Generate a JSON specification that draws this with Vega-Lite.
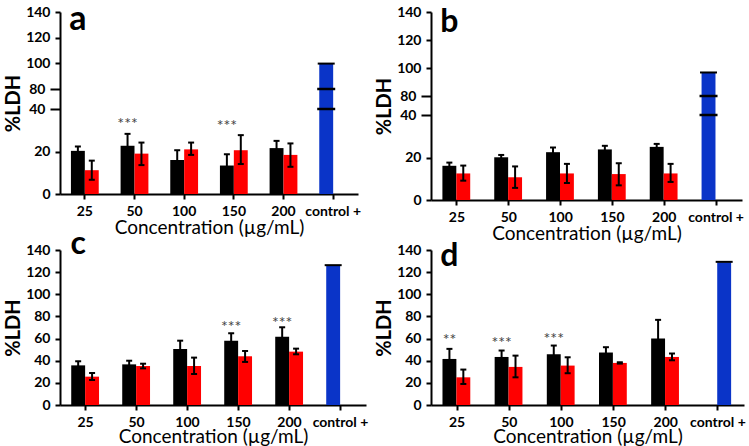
{
  "$schema": "https://vega.github.io/schema/vega-lite/v6.json",
  "padding": {"left": 3, "top": 2, "right": 2, "bottom": 0},
  "background": "white",
  "datasets": {
    "bars": [
      {"p": "a", "c": "25", "s": "1", "g": "A", "v": 20.3, "lo": 18.2, "hi": 22.4},
      {"p": "a", "c": "25", "s": "2", "g": "B", "v": 11.2, "lo": 6.7, "hi": 15.7},
      {"p": "a", "c": "50", "s": "1", "g": "A", "v": 22.7, "lo": 17.1, "hi": 28.3},
      {"p": "a", "c": "50", "s": "2", "g": "B", "v": 19.0, "lo": 13.6, "hi": 24.2},
      {"p": "a", "c": "100", "s": "1", "g": "A", "v": 16.0, "lo": 11.4, "hi": 20.6},
      {"p": "a", "c": "100", "s": "2", "g": "B", "v": 21.0, "lo": 18.4, "hi": 24.2},
      {"p": "a", "c": "150", "s": "1", "g": "A", "v": 13.4, "lo": 8.1, "hi": 18.7},
      {"p": "a", "c": "150", "s": "2", "g": "B", "v": 20.6, "lo": 14.1, "hi": 27.7},
      {"p": "a", "c": "200", "s": "1", "g": "A", "v": 21.6, "lo": 18.2, "hi": 25.0},
      {"p": "a", "c": "200", "s": "2", "g": "B", "v": 18.4, "lo": 12.8, "hi": 23.8},
      {"p": "a", "c": "control +", "s": "1", "g": "C", "v": 99.5, "lo": 99.2, "hi": 99.8},
      {"p": "b", "c": "25", "s": "1", "g": "A", "v": 16.1, "lo": 14.6, "hi": 17.6},
      {"p": "b", "c": "25", "s": "2", "g": "B", "v": 12.5, "lo": 9.1, "hi": 16.2},
      {"p": "b", "c": "50", "s": "1", "g": "A", "v": 20.1, "lo": 19.0, "hi": 21.2},
      {"p": "b", "c": "50", "s": "2", "g": "B", "v": 10.7, "lo": 5.7, "hi": 15.8},
      {"p": "b", "c": "100", "s": "1", "g": "A", "v": 22.5, "lo": 20.3, "hi": 24.7},
      {"p": "b", "c": "100", "s": "2", "g": "B", "v": 12.5, "lo": 8.0, "hi": 17.0},
      {"p": "b", "c": "150", "s": "1", "g": "A", "v": 23.8, "lo": 22.1, "hi": 25.5},
      {"p": "b", "c": "150", "s": "2", "g": "B", "v": 12.2, "lo": 6.9, "hi": 17.3},
      {"p": "b", "c": "200", "s": "1", "g": "A", "v": 25.0, "lo": 23.6, "hi": 26.4},
      {"p": "b", "c": "200", "s": "2", "g": "B", "v": 12.5, "lo": 8.5, "hi": 17.0},
      {"p": "b", "c": "control +", "s": "1", "g": "C", "v": 96.5, "lo": 96.2, "hi": 96.8},
      {"p": "c", "c": "25", "s": "1", "g": "A", "v": 35.8, "lo": 32.1, "hi": 39.5},
      {"p": "c", "c": "25", "s": "2", "g": "B", "v": 25.6, "lo": 22.6, "hi": 28.9},
      {"p": "c", "c": "50", "s": "1", "g": "A", "v": 36.7, "lo": 33.4, "hi": 40.0},
      {"p": "c", "c": "50", "s": "2", "g": "B", "v": 35.2, "lo": 33.1, "hi": 37.3},
      {"p": "c", "c": "100", "s": "1", "g": "A", "v": 50.6, "lo": 43.1, "hi": 58.1},
      {"p": "c", "c": "100", "s": "2", "g": "B", "v": 35.2, "lo": 28.0, "hi": 42.8},
      {"p": "c", "c": "150", "s": "1", "g": "A", "v": 58.1, "lo": 51.4, "hi": 64.8},
      {"p": "c", "c": "150", "s": "2", "g": "B", "v": 44.0, "lo": 38.9, "hi": 48.8},
      {"p": "c", "c": "200", "s": "1", "g": "A", "v": 61.7, "lo": 53.2, "hi": 70.2},
      {"p": "c", "c": "200", "s": "2", "g": "B", "v": 48.2, "lo": 45.8, "hi": 50.9},
      {"p": "c", "c": "control +", "s": "1", "g": "C", "v": 126.0, "lo": 125.7, "hi": 126.3},
      {"p": "d", "c": "25", "s": "1", "g": "A", "v": 41.6, "lo": 32.5, "hi": 50.7},
      {"p": "d", "c": "25", "s": "2", "g": "B", "v": 25.0, "lo": 19.0, "hi": 32.0},
      {"p": "d", "c": "50", "s": "1", "g": "A", "v": 43.4, "lo": 37.6, "hi": 49.2},
      {"p": "d", "c": "50", "s": "2", "g": "B", "v": 34.4, "lo": 25.0, "hi": 44.6},
      {"p": "d", "c": "100", "s": "1", "g": "A", "v": 45.9, "lo": 38.1, "hi": 53.7},
      {"p": "d", "c": "100", "s": "2", "g": "B", "v": 35.6, "lo": 28.7, "hi": 43.1},
      {"p": "d", "c": "150", "s": "1", "g": "A", "v": 47.4, "lo": 42.6, "hi": 52.2},
      {"p": "d", "c": "150", "s": "2", "g": "B", "v": 38.0, "lo": 37.4, "hi": 38.6},
      {"p": "d", "c": "200", "s": "1", "g": "A", "v": 60.0, "lo": 43.1, "hi": 76.9},
      {"p": "d", "c": "200", "s": "2", "g": "B", "v": 43.4, "lo": 40.4, "hi": 46.5},
      {"p": "d", "c": "control +", "s": "2", "g": "C", "v": 129.0, "lo": 128.7, "hi": 129.3}
    ],
    "stars": [
      {"p": "a", "c": "50", "s": "1", "t": "***", "y": 33.1},
      {"p": "a", "c": "150", "s": "1", "t": "***", "y": 32.0},
      {"p": "c", "c": "150", "s": "1", "t": "***", "y": 70.5},
      {"p": "c", "c": "200", "s": "1", "t": "***", "y": 74.4},
      {"p": "d", "c": "25", "s": "1", "t": "**", "y": 58.5},
      {"p": "d", "c": "50", "s": "1", "t": "***", "y": 56.4},
      {"p": "d", "c": "100", "s": "1", "t": "***", "y": 60.0}
    ],
    "breaks": [
      {"p": "a", "c": "control +", "s": "1", "y": 80},
      {"p": "a", "c": "control +", "s": "1", "y": 40},
      {"p": "b", "c": "control +", "s": "1", "y": 80},
      {"p": "b", "c": "control +", "s": "1", "y": 40}
    ],
    "letters": [
      {"p": "a", "c": "25", "s": "1", "t": "a"},
      {"p": "b", "c": "25", "s": "1", "t": "b"},
      {"p": "c", "c": "25", "s": "1", "t": "c"},
      {"p": "d", "c": "25", "s": "1", "t": "d"}
    ]
  },
  "columns": 2,
  "spacing": {"row": -15, "column": 6},
  "concat": [
    {
      "width": 298, "height": 182,
      "encoding": {
        "x": {"field": "c", "type": "nominal", "sort": ["25", "50", "100", "150", "200", "control +"], "scale": {"domain": ["25", "50", "100", "150", "200", "control +"], "paddingInner": 0.44, "paddingOuter": 0.22}, "axis": {"title": "Concentration (µg/mL)", "titlePadding": 0}},
        "xOffset": {"field": "s", "type": "nominal", "scale": {"domain": ["1", "2"], "paddingInner": 0, "paddingOuter": 0}}
      },
      "layer": [
        {"data": {"name": "bars"}, "transform": [{"filter": "datum.p=='a'"}], "mark": {"type": "bar"},
          "encoding": {
            "y": {"field": "v", "type": "quantitative", "scale": {"domain": [0, 40, 80, 140], "range": [182, 97, 77, 0], "nice": false, "zero": false}, "axis": {"title": "%LDH", "values": [0, 20, 40, 80, 100, 120, 140], "tickCount": 30, "labelOverlap": false, "tickSize": {"condition": {"test": "datum.value==40 || datum.value==80", "value": 10}, "value": 5}}},
            "color": {"field": "g", "type": "nominal", "scale": {"domain": ["A", "B", "C"], "range": ["#000000", "#ff0000", "#0a34c8"]}, "legend": null}
          }},
        {"data": {"name": "bars"}, "transform": [{"filter": "datum.p=='a' && datum.g!='C'"}], "mark": {"type": "rule", "color": "black", "strokeWidth": 2},
          "encoding": {"y": {"field": "lo", "type": "quantitative"}, "y2": {"field": "hi"}}},
        {"data": {"name": "bars"}, "transform": [{"filter": "datum.p=='a' && datum.g!='C'"}], "mark": {"type": "tick", "color": "black", "size": 6, "thickness": 2, "opacity": 1},
          "encoding": {"y": {"field": "hi", "type": "quantitative"}}},
        {"data": {"name": "bars"}, "transform": [{"filter": "datum.p=='a' && datum.g!='C'"}], "mark": {"type": "tick", "color": "black", "size": 6, "thickness": 2, "opacity": 1},
          "encoding": {"y": {"field": "lo", "type": "quantitative"}}},
        {"data": {"name": "bars"}, "transform": [{"filter": "datum.p=='a' && datum.g=='C'"}], "mark": {"type": "tick", "color": "black", "size": 17, "thickness": 2, "opacity": 1},
          "encoding": {"y": {"field": "hi", "type": "quantitative"}}},
        {"data": {"name": "breaks"}, "transform": [{"filter": "datum.p=='a'"}], "mark": {"type": "tick", "color": "black", "size": 18, "thickness": 2.5, "opacity": 1},
          "encoding": {"y": {"field": "y", "type": "quantitative"}}},
        {"data": {"name": "stars"}, "transform": [{"filter": "datum.p=='a'"}], "mark": {"type": "text", "color": "#444444", "fontSize": 16, "font": "Lato", "baseline": "middle"},
          "encoding": {"y": {"field": "y", "type": "quantitative"}, "text": {"field": "t"}}},
        {"data": {"name": "letters"}, "transform": [{"filter": "datum.p=='a'"}], "mark": {"type": "text", "color": "black", "fontSize": 34, "fontWeight": "bold", "font": "Lato", "baseline": "alphabetic", "align": "center"},
          "encoding": {"y": {"datum": 126}, "text": {"field": "t"}}}
      ]
    },
    {
      "width": 311, "height": 188,
      "encoding": {
        "x": {"field": "c", "type": "nominal", "sort": ["25", "50", "100", "150", "200", "control +"], "scale": {"domain": ["25", "50", "100", "150", "200", "control +"], "paddingInner": 0.44, "paddingOuter": 0.22}, "axis": {"title": "Concentration (µg/mL)", "titlePadding": 0}},
        "xOffset": {"field": "s", "type": "nominal", "scale": {"domain": ["1", "2"], "paddingInner": 0, "paddingOuter": 0}}
      },
      "layer": [
        {"data": {"name": "bars"}, "transform": [{"filter": "datum.p=='b'"}], "mark": {"type": "bar"},
          "encoding": {
            "y": {"field": "v", "type": "quantitative", "scale": {"domain": [0, 40, 80, 140], "range": [188, 103, 84, 0], "nice": false, "zero": false}, "axis": {"title": "%LDH", "values": [0, 20, 40, 80, 100, 120, 140], "tickCount": 30, "labelOverlap": false, "tickSize": {"condition": {"test": "datum.value==40 || datum.value==80", "value": 10}, "value": 5}}},
            "color": {"field": "g", "type": "nominal", "scale": {"domain": ["A", "B", "C"], "range": ["#000000", "#ff0000", "#0a34c8"]}, "legend": null}
          }},
        {"data": {"name": "bars"}, "transform": [{"filter": "datum.p=='b' && datum.g!='C'"}], "mark": {"type": "rule", "color": "black", "strokeWidth": 2},
          "encoding": {"y": {"field": "lo", "type": "quantitative"}, "y2": {"field": "hi"}}},
        {"data": {"name": "bars"}, "transform": [{"filter": "datum.p=='b' && datum.g!='C'"}], "mark": {"type": "tick", "color": "black", "size": 6, "thickness": 2, "opacity": 1},
          "encoding": {"y": {"field": "hi", "type": "quantitative"}}},
        {"data": {"name": "bars"}, "transform": [{"filter": "datum.p=='b' && datum.g!='C'"}], "mark": {"type": "tick", "color": "black", "size": 6, "thickness": 2, "opacity": 1},
          "encoding": {"y": {"field": "lo", "type": "quantitative"}}},
        {"data": {"name": "bars"}, "transform": [{"filter": "datum.p=='b' && datum.g=='C'"}], "mark": {"type": "tick", "color": "black", "size": 17, "thickness": 2, "opacity": 1},
          "encoding": {"y": {"field": "hi", "type": "quantitative"}}},
        {"data": {"name": "breaks"}, "transform": [{"filter": "datum.p=='b'"}], "mark": {"type": "tick", "color": "black", "size": 18, "thickness": 2.5, "opacity": 1},
          "encoding": {"y": {"field": "y", "type": "quantitative"}}},
        {"data": {"name": "letters"}, "transform": [{"filter": "datum.p=='b'"}], "mark": {"type": "text", "color": "black", "fontSize": 32, "fontWeight": "bold", "font": "Lato", "baseline": "alphabetic", "align": "center"},
          "encoding": {"y": {"datum": 126}, "text": {"field": "t"}}}
      ]
    },
    {
      "width": 306, "height": 155,
      "encoding": {
        "x": {"field": "c", "type": "nominal", "sort": ["25", "50", "100", "150", "200", "control +"], "scale": {"domain": ["25", "50", "100", "150", "200", "control +"], "paddingInner": 0.44, "paddingOuter": 0.22}, "axis": {"title": "Concentration (µg/mL)", "titlePadding": -2}},
        "xOffset": {"field": "s", "type": "nominal", "scale": {"domain": ["1", "2"], "paddingInner": 0, "paddingOuter": 0}}
      },
      "layer": [
        {"data": {"name": "bars"}, "transform": [{"filter": "datum.p=='c'"}], "mark": {"type": "bar"},
          "encoding": {
            "y": {"field": "v", "type": "quantitative", "scale": {"domain": [0, 140], "nice": false, "zero": true}, "axis": {"title": "%LDH", "values": [0, 20, 40, 60, 80, 100, 120, 140], "tickCount": 30, "labelOverlap": false}},
            "color": {"field": "g", "type": "nominal", "scale": {"domain": ["A", "B", "C"], "range": ["#000000", "#ff0000", "#0a34c8"]}, "legend": null}
          }},
        {"data": {"name": "bars"}, "transform": [{"filter": "datum.p=='c' && datum.g!='C'"}], "mark": {"type": "rule", "color": "black", "strokeWidth": 2},
          "encoding": {"y": {"field": "lo", "type": "quantitative"}, "y2": {"field": "hi"}}},
        {"data": {"name": "bars"}, "transform": [{"filter": "datum.p=='c' && datum.g!='C'"}], "mark": {"type": "tick", "color": "black", "size": 6, "thickness": 2, "opacity": 1},
          "encoding": {"y": {"field": "hi", "type": "quantitative"}}},
        {"data": {"name": "bars"}, "transform": [{"filter": "datum.p=='c' && datum.g!='C'"}], "mark": {"type": "tick", "color": "black", "size": 6, "thickness": 2, "opacity": 1},
          "encoding": {"y": {"field": "lo", "type": "quantitative"}}},
        {"data": {"name": "bars"}, "transform": [{"filter": "datum.p=='c' && datum.g=='C'"}], "mark": {"type": "tick", "color": "black", "size": 17, "thickness": 2, "opacity": 1},
          "encoding": {"y": {"field": "hi", "type": "quantitative"}}},
        {"data": {"name": "stars"}, "transform": [{"filter": "datum.p=='c'"}], "mark": {"type": "text", "color": "#444444", "fontSize": 16, "font": "Lato", "baseline": "middle"},
          "encoding": {"y": {"field": "y", "type": "quantitative"}, "text": {"field": "t"}}},
        {"data": {"name": "letters"}, "transform": [{"filter": "datum.p=='c'"}], "mark": {"type": "text", "color": "black", "fontSize": 32, "fontWeight": "bold", "font": "Lato", "baseline": "alphabetic", "align": "center"},
          "encoding": {"y": {"datum": 136}, "text": {"field": "t"}}}
      ]
    },
    {
      "width": 313, "height": 155,
      "encoding": {
        "x": {"field": "c", "type": "nominal", "sort": ["25", "50", "100", "150", "200", "control +"], "scale": {"domain": ["25", "50", "100", "150", "200", "control +"], "paddingInner": 0.44, "paddingOuter": 0.22}, "axis": {"title": "Concentration (µg/mL)", "titlePadding": -2}},
        "xOffset": {"field": "s", "type": "nominal", "scale": {"domain": ["1", "2"], "paddingInner": 0, "paddingOuter": 0}}
      },
      "layer": [
        {"data": {"name": "bars"}, "transform": [{"filter": "datum.p=='d'"}], "mark": {"type": "bar"},
          "encoding": {
            "y": {"field": "v", "type": "quantitative", "scale": {"domain": [0, 140], "nice": false, "zero": true}, "axis": {"title": "%LDH", "values": [0, 20, 40, 60, 80, 100, 120, 140], "tickCount": 30, "labelOverlap": false}},
            "color": {"field": "g", "type": "nominal", "scale": {"domain": ["A", "B", "C"], "range": ["#000000", "#ff0000", "#0a34c8"]}, "legend": null}
          }},
        {"data": {"name": "bars"}, "transform": [{"filter": "datum.p=='d' && datum.g!='C'"}], "mark": {"type": "rule", "color": "black", "strokeWidth": 2},
          "encoding": {"y": {"field": "lo", "type": "quantitative"}, "y2": {"field": "hi"}}},
        {"data": {"name": "bars"}, "transform": [{"filter": "datum.p=='d' && datum.g!='C'"}], "mark": {"type": "tick", "color": "black", "size": 6, "thickness": 2, "opacity": 1},
          "encoding": {"y": {"field": "hi", "type": "quantitative"}}},
        {"data": {"name": "bars"}, "transform": [{"filter": "datum.p=='d' && datum.g!='C'"}], "mark": {"type": "tick", "color": "black", "size": 6, "thickness": 2, "opacity": 1},
          "encoding": {"y": {"field": "lo", "type": "quantitative"}}},
        {"data": {"name": "bars"}, "transform": [{"filter": "datum.p=='d' && datum.g=='C'"}], "mark": {"type": "tick", "color": "black", "size": 17, "thickness": 2, "opacity": 1},
          "encoding": {"y": {"field": "hi", "type": "quantitative"}}},
        {"data": {"name": "stars"}, "transform": [{"filter": "datum.p=='d'"}], "mark": {"type": "text", "color": "#444444", "fontSize": 16, "font": "Lato", "baseline": "middle"},
          "encoding": {"y": {"field": "y", "type": "quantitative"}, "text": {"field": "t"}}},
        {"data": {"name": "letters"}, "transform": [{"filter": "datum.p=='d'"}], "mark": {"type": "text", "color": "black", "fontSize": 32, "fontWeight": "bold", "font": "Lato", "baseline": "alphabetic", "align": "center"},
          "encoding": {"y": {"datum": 126}, "text": {"field": "t"}}}
      ]
    }
  ],
  "config": {
    "view": {"stroke": null},
    "font": "Lato",
    "bar": {"stroke": null},
    "axis": {"domainColor": "black", "domainWidth": 2, "tickColor": "black", "tickWidth": 2, "tickSize": 5, "labelColor": "black", "labelFont": "Lato", "labelFontWeight": "bold", "titleColor": "black", "titleFont": "Lato", "grid": false},
    "axisX": {"labelFontSize": 14, "labelAngle": 0, "labelPadding": 5, "titleFontSize": 19, "titleFontWeight": "normal"},
    "axisY": {"labelFontSize": 14, "labelPadding": 5, "labelOverlap": false, "titleFontSize": 20, "titleFontWeight": "bold", "titlePadding": 2}
  }
}
